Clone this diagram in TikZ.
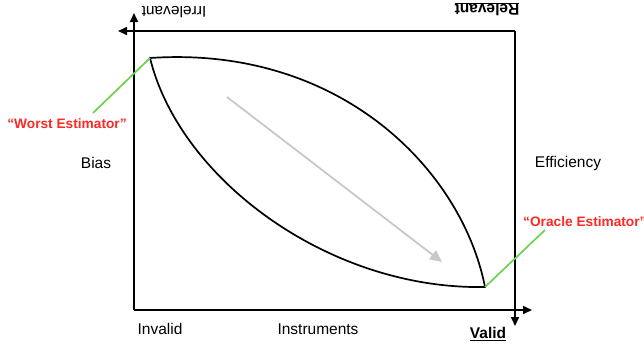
\documentclass[tikz,border=0pt]{standalone}
\usepackage{fontspec}
\setmainfont{Liberation Sans}
\usetikzlibrary{arrows.meta}
\definecolor{estred}{RGB}{252,40,35}
\definecolor{estgreen}{RGB}{110,210,80}
\definecolor{arrowgray}{RGB}{200,200,200}
\tikzset{
  axis/.style={line width=1.6pt,-{Triangle[length=9pt,width=8pt]}},
  lens/.style={line width=1.7pt},
  pointer/.style={estgreen,line width=1.7pt},
  lbl/.style={font=\fontsize{15.5}{18}\selectfont,inner sep=0pt},
  est/.style={font=\fontsize{13.7}{16}\selectfont\bfseries,text=estred,inner sep=0pt},
  trend/.style={arrowgray,line width=1.8pt,-{Triangle[length=12pt,width=11pt]}}
}
\begin{document}
\begin{tikzpicture}[x=1pt,y=-1pt]
\useasboundingbox (0,0) rectangle (644,348);
% frame corners
\coordinate (bl) at (134,310);
\coordinate (tl) at (134,31);
\coordinate (tr) at (515,31);
\coordinate (br) at (515,310);
\coordinate (upTip) at (134,13);
\coordinate (leftTip) at (118,31);
\coordinate (rightTip) at (532,310);
\coordinate (downTip) at (515,326);
\draw[axis] (bl) -- (upTip);
\draw[axis] (tr) -- (leftTip);
\draw[axis] (tr) -- (downTip);
\draw[axis] (bl) -- (rightTip);
% lens
\coordinate (worst) at (150,58);
\coordinate (oracle) at (485,287);
\draw[lens,line join=miter] (worst) .. controls (340,45) and (462,170) .. (oracle)
  .. controls (330,290) and (180,180) .. (worst) -- cycle;
% trend arrow
\coordinate (trendA) at (227,97);
\coordinate (trendB) at (442,262);
\draw[trend] (trendA) -- (trendB);
% pointers
\coordinate (worstEnd) at (93,113);
\coordinate (oracleEnd) at (545,230);
\draw[pointer] (worstEnd) -- (worst);
\draw[pointer] (oracle) -- (oracleEnd);
% labels
\node[est] (worstLbl) at (67,124) {“Worst Estimator”};
\node[est,anchor=west] (oracleLbl) at (523,222) {“Oracle Estimator”};
\node[lbl] (bias) at (96,163) {Bias};
\node[lbl] (eff) at (568,163) {Efficiency};
\node[lbl] (invalid) at (160,329) {Invalid};
\node[lbl] (instr) at (318,329) {Instruments};
\node[lbl,font=\fontsize{15.5}{18}\selectfont\bfseries] (valid) at (488,334) {\underline{Valid}};
\node[lbl,rotate=180] (irrel) at (174,12) {Irrelevant};
\node[lbl,rotate=180,font=\fontsize{15.5}{18}\selectfont\bfseries] (rel) at (487,9) {\underline{Relevant}};
\end{tikzpicture}
\end{document}
